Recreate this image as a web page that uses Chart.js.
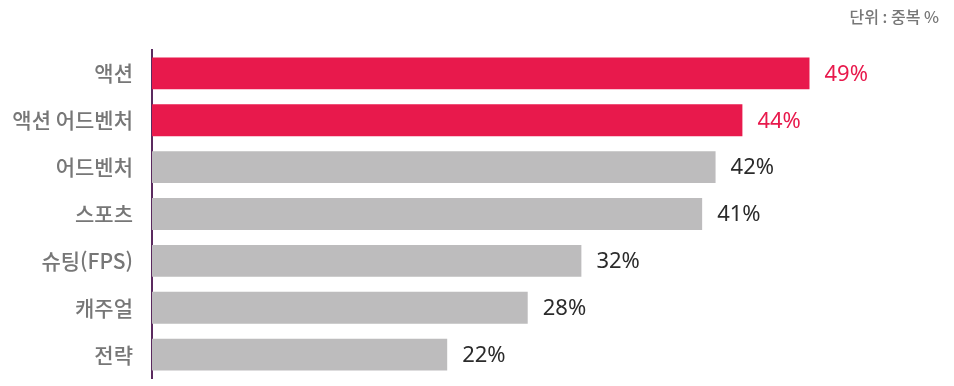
<!DOCTYPE html>
<html lang="ko">
<head>
    <meta charset="UTF-8">
    <title>장르 선호도</title>
    <script src="https://cdn.jsdelivr.net/npm/chart.js"></script>
    <style>
        body {
            margin: 0;
            background: #ffffff;
        }
        canvas {
            display: block;
        }
    </style>
</head>
<body>
    <canvas id="genreChart" width="954" height="386"></canvas>

    <script>
        // data
        const genres = ['액션', '액션 어드벤처', '어드벤처', '스포츠', '슈팅(FPS)', '캐주얼', '전략'];
        const shares = [49, 44, 42, 41, 32, 28, 22];
        const highlighted = [true, true, false, false, false, false, false];
        const unitNote = '단위 : 중복 %';

        const RED = '#e8194c';
        const GRAY = '#bdbcbd';

        // value labels at the end of each bar
        const valueLabels = {
            id: 'valueLabels',
            afterDatasetsDraw(chart) {
                const ctx = chart.ctx;
                const meta = chart.getDatasetMeta(0);
                ctx.save();
                ctx.font = '22px "Noto Sans", sans-serif';
                ctx.textBaseline = 'middle';
                ctx.textAlign = 'left';
                meta.data.forEach((bar, i) => {
                    ctx.fillStyle = highlighted[i] ? RED : '#2b2b2b';
                    ctx.fillText(shares[i] + '%', bar.x + 15, bar.y + 1);
                });
                ctx.restore();
            }
        };

        // small unit note in the top right corner
        const unitLabel = {
            id: 'unitLabel',
            afterDraw(chart) {
                const ctx = chart.ctx;
                ctx.save();
                ctx.font = '500 16px "Noto Sans CJK KR", sans-serif';
                ctx.fillStyle = '#777777';
                ctx.textAlign = 'right';
                ctx.textBaseline = 'middle';
                ctx.fillText(unitNote, 939, 17);
                ctx.restore();
            }
        };

        new Chart(document.getElementById('genreChart'), {
            type: 'bar',
            data: {
                labels: genres,
                datasets: [{
                    data: shares,
                    backgroundColor: highlighted.map(h => h ? RED : GRAY),
                    barPercentage: 0.68,
                    categoryPercentage: 1
                }]
            },
            options: {
                indexAxis: 'y',
                responsive: false,
                animation: false,
                layout: {
                    padding: { top: 50, right: 64, bottom: 8, left: 0 }
                },
                scales: {
                    x: {
                        display: false,
                        min: 0,
                        max: 55
                    },
                    y: {
                        afterFit(scale) {
                            scale.width = 152;
                            // tick padding would otherwise push the bottom up
                            scale.paddingTop = 0;
                            scale.paddingBottom = 0;
                        },
                        grid: { display: false, drawTicks: false },
                        border: { display: true, color: '#5b2a5f', width: 2 },
                        ticks: {
                            color: '#777777',
                            padding: 19,
                            font: { family: '"Noto Sans CJK KR", sans-serif', size: 21, weight: '500' }
                        }
                    }
                },
                plugins: {
                    legend: { display: false },
                    tooltip: { enabled: false }
                }
            },
            plugins: [valueLabels, unitLabel]
        });
    </script>
</body>
</html>
